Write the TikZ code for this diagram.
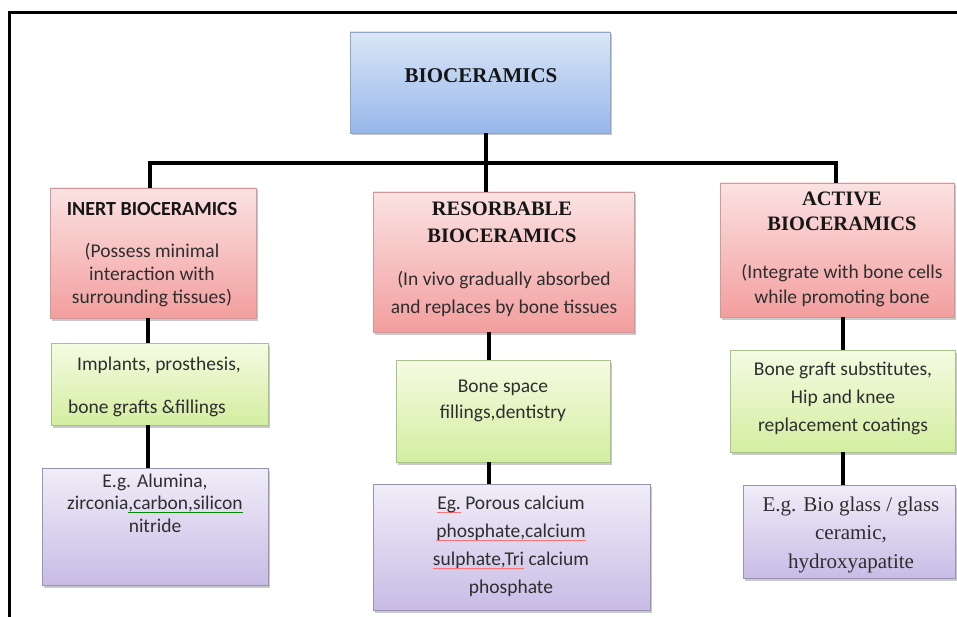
\documentclass[tikz,border=0pt]{standalone}
\usepackage{fontspec}
\setmainfont{Carlito}
\newfontfamily\tnr{Liberation Serif}
\usetikzlibrary{shadows}
\definecolor{blueT}{HTML}{DAE6F7}
\definecolor{blueB}{HTML}{97B7EA}
\definecolor{blueD}{HTML}{8FA6C9}
\definecolor{redT}{HTML}{FBE2E2}
\definecolor{redB}{HTML}{F39E9E}
\definecolor{redD}{HTML}{D09898}
\definecolor{grnT}{HTML}{F5FBE2}
\definecolor{grnB}{HTML}{D3EEA0}
\definecolor{grnD}{HTML}{A9C28C}
\definecolor{purT}{HTML}{F1EDF8}
\definecolor{purB}{HTML}{C8BCE6}
\definecolor{purD}{HTML}{9A91B4}
\definecolor{txtc}{HTML}{2E2E2E}
\definecolor{ttlc}{HTML}{161616}
\newcommand\tp{\rule{0pt}{18pt}}
\newsavebox\myulbox
\newcommand\myul[2]{\sbox\myulbox{#2}\rlap{\textcolor{#1}{\rule[-3.5pt]{\wd\myulbox}{0.9pt}}}\usebox\myulbox}
\newcommand\rul[1]{\myul{red!55!white}{#1}}
\newcommand\gul[1]{\myul{green!55!black}{#1}}
\begin{document}
\begin{tikzpicture}[x=1pt,y=-1pt,
  boxbase/.style={inner sep=0pt, line width=0.8pt,
    drop shadow={shadow xshift=1.5pt, shadow yshift=-2.5pt, opacity=0.35, fill=black!60}},
  bluebox/.style={boxbase, draw=blueD, top color=blueT, bottom color=blueB},
  redbox/.style={boxbase, draw=redD, top color=redT, bottom color=redB},
  grnbox/.style={boxbase, draw=grnD, top color=grnT, bottom color=grnB},
  purbox/.style={boxbase, draw=purD, top color=purT, bottom color=purB},
  txt/.style={inner sep=0pt, anchor=north, align=center, text=txtc},
  conn/.style={line width=4pt, black, line join=miter}]
\useasboundingbox (0,0) rectangle (957,617);
\fill[white] (0,0) rectangle (957,617);
% frame
\draw[line width=3pt] (9,617) -- (9,13) -- (957,13);
% boxes
\node[bluebox, minimum width=260, minimum height=101] (bio) at (480,82.5) {};
\node[redbox, minimum width=206, minimum height=130] (inert) at (153,253) {};
\node[redbox, minimum width=261, minimum height=140] (res) at (503.5,262) {};
\node[redbox, minimum width=234, minimum height=134] (act) at (837,250) {};
\node[grnbox, minimum width=217, minimum height=82] (ig) at (159.5,384) {};
\node[grnbox, minimum width=214, minimum height=102] (rg) at (503,411) {};
\node[grnbox, minimum width=225, minimum height=102] (ag) at (842.5,401) {};
\node[purbox, minimum width=226, minimum height=117] (ip) at (155,526.5) {};
\node[purbox, minimum width=277, minimum height=126] (rp) at (511.5,547) {};
\node[purbox, minimum width=212, minimum height=93] (ap) at (849,531.5) {};
% connectors
\coordinate (busL) at (150,163);
\coordinate (busM) at (486,163);
\coordinate (busR) at (836,163);
\coordinate (colL) at (148,0);
\coordinate (colM) at (489,0);
\coordinate (colR) at (843,0);
\draw[conn] (bio.south -| busM) -- (busM);
\draw[conn] (inert.north -| busL) -- (busL) -- (busR) -- (act.north -| busR);
\draw[conn] (busM) -- (res.north -| busM);
\draw[conn] (inert.south -| colL) -- (ig.north -| colL);
\draw[conn] (ig.south -| colL) -- (ip.north -| colL);
\draw[conn] (res.south -| colM) -- (rg.north -| colM);
\draw[conn] (rg.south -| colM) -- (rp.north -| colM);
\draw[conn] (act.south -| colR) -- (ag.north -| colR);
\draw[conn] (ag.south -| colR) -- (ap.north -| colR);
% texts
\node[txt, text=ttlc, font=\tnr\bfseries\fontsize{21}{24}\selectfont] (tbio) at (481,64) {\tp BIOCERAMICS};
\node[txt, text=ttlc, font=\bfseries\fontsize{20}{24}\selectfont] (tinert) at (152,197) {\tp INERT BIOCERAMICS};
\node[txt, font=\fontsize{19.5}{23}\selectfont] (binert) at (152,239) {\tp(Possess minimal\\interaction with\\surrounding tissues)};
\node[txt, text=ttlc, font=\tnr\bfseries\fontsize{20.5}{27}\selectfont] (tres) at (502,197) {\tp RESORBABLE\\BIOCERAMICS};
\node[txt, font=\fontsize{19.5}{28}\selectfont] (bres) at (504,267) {\tp(In vivo gradually absorbed\\and replaces by bone tissues};
\node[txt, text=ttlc, font=\tnr\bfseries\fontsize{20.5}{25}\selectfont] (tact) at (842,187) {\tp ACTIVE\\BIOCERAMICS};
\node[txt, font=\fontsize{19.5}{25}\selectfont] (bact) at (842,260) {\tp(Integrate with bone cells\\while promoting bone};
\node[txt, font=\fontsize{19.5}{23}\selectfont] (tig1) at (159,352) {\tp Implants, prosthesis,};
\node[txt, font=\fontsize{19.5}{23}\selectfont] (tig2) at (147,395) {\tp bone grafts \&fillings};
\node[txt, font=\fontsize{19.5}{26}\selectfont] (trg) at (503,374) {\tp Bone space\\fillings,dentistry};
\node[txt, font=\fontsize{19.5}{28}\selectfont] (tag) at (843,357) {\tp Bone graft substitutes,\\Hip and knee\\replacement coatings};
\node[txt, font=\fontsize{19.5}{22.5}\selectfont] (tip) at (155,469) {\tp E.g. Alumina,\\zirconia\gul{,carbon,silicon}\\nitride};
\node[txt, font=\fontsize{19.5}{28}\selectfont] (trp) at (511,491) {\tp\rul{Eg.} Porous calcium\\\rul{phosphate,calcium}\\\rul{sulphate,Tri} calcium\\phosphate};
\node[txt, font=\tnr\fontsize{21}{28.5}\selectfont] (tap) at (851,493) {\tp E.g. Bio glass / glass\\ceramic,\\hydroxyapatite};
\end{tikzpicture}
\end{document}
